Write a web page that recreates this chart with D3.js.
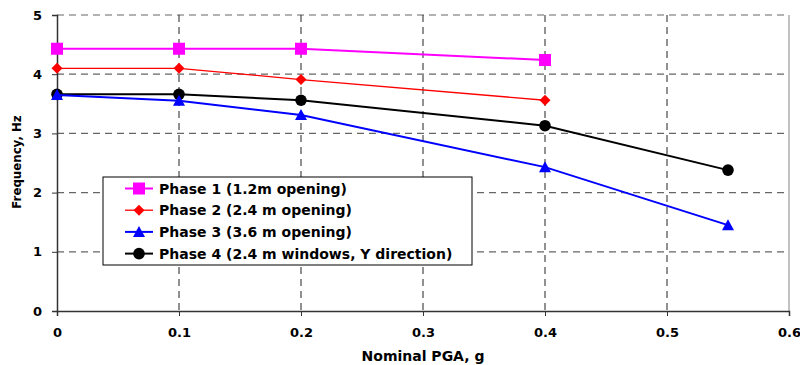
<!DOCTYPE html>
<html>
<head>
<meta charset="utf-8">
<script src="https://cdn.jsdelivr.net/npm/d3@7"></script>
<style>
  body { margin: 0; background: #fff; }
  svg { display: block; font-family: "DejaVu Sans", Verdana, sans-serif; font-weight: bold; }
</style>
</head>
<body>
<figure id="chart" style="margin:0"></figure>
<script>
// chart values
const pga = [0, 0.1, 0.2, 0.4, 0.55];
const phase1 = [4.43, 4.43, 4.43, 4.24];
const phase2 = [4.1, 4.1, 3.91, 3.56];
const phase3 = [3.65, 3.55, 3.31, 2.43, 1.45];
const phase4 = [3.66, 3.66, 3.56, 3.13, 2.38];
const seriesNames = [
  "Phase 1 (1.2m opening)",
  "Phase 2 (2.4 m opening)",
  "Phase 3 (3.6 m opening)",
  "Phase 4 (2.4 m windows, Y direction)"
];
const xTicks = [0, 0.1, 0.2, 0.3, 0.4, 0.5, 0.6];
const yTicks = [0, 1, 2, 3, 4, 5];

const width = 800, height = 365;
const margin = { top: 15, right: 11, bottom: 54, left: 57 };
const w = width - margin.left - margin.right;
const h = height - margin.top - margin.bottom;
const fontFam = "DejaVu Sans, Verdana, sans-serif";

const series = [
  { name: seriesNames[0], values: phase1, color: "#ff00ff", stroke: 2, shape: "square" },
  { name: seriesNames[1], values: phase2, color: "#ff0000", stroke: 1.3, shape: "diamond" },
  { name: seriesNames[2], values: phase3, color: "#0000ff", stroke: 2, shape: "triangle" },
  { name: seriesNames[3], values: phase4, color: "#000000", stroke: 2, shape: "circle" }
];

const svg = d3.select("figure#chart")
  .append("svg")
  .attr("width", width)
  .attr("height", height);

const g = svg.append("g")
  .attr("transform", "translate(" + margin.left + "," + margin.top + ")");

const x = d3.scaleLinear().domain([0, 0.6]).range([0, w]);
const y = d3.scaleLinear().domain([0, 5]).range([h, 0]);

// grid lines
g.append("g")
  .selectAll("line")
  .data(yTicks.filter(d => d > 0))
  .enter()
  .append("line")
  .attr("x1", 0).attr("x2", w)
  .attr("y1", d => y(d)).attr("y2", d => y(d))
  .attr("stroke", "#666").attr("stroke-width", 1.2)
  .attr("stroke-dasharray", "7,5");

g.append("g")
  .selectAll("line")
  .data(xTicks.filter(d => d > 0 && d < 0.6))
  .enter()
  .append("line")
  .attr("x1", d => x(d)).attr("x2", d => x(d))
  .attr("y1", 0).attr("y2", h)
  .attr("stroke", "#222").attr("stroke-width", 1)
  .attr("stroke-dasharray", "7,5");

// right border
g.append("line")
  .attr("x1", x(0.6)).attr("x2", x(0.6))
  .attr("y1", 0).attr("y2", h)
  .attr("stroke", "#999").attr("stroke-width", 1.2);

// axes
const xAxis = g.append("g")
  .attr("transform", "translate(0," + h + ")")
  .call(d3.axisBottom(x).tickValues(xTicks).tickFormat(d3.format("")).tickSize(5).tickPadding(12));
const yAxis = g.append("g")
  .call(d3.axisLeft(y).tickValues(yTicks).tickFormat(d3.format("d")).tickSize(5).tickPadding(10));

[xAxis, yAxis].forEach(a => {
  a.select(".domain").attr("stroke", "#333").attr("stroke-width", 1.5);
  a.selectAll(".tick line").attr("stroke", "#333");
  a.selectAll("text").attr("font-size", 13).attr("font-weight", "bold")
    .attr("font-family", fontFam).attr("fill", "#000");
});

// axis titles
svg.append("text")
  .attr("x", margin.left + x(0.3))
  .attr("y", 361)
  .attr("text-anchor", "middle")
  .attr("font-size", 14)
  .text("Nominal PGA, g");

svg.append("text")
  .attr("transform", "translate(21," + 162 + ") rotate(-90)")
  .attr("text-anchor", "middle")
  .attr("font-size", 11.8)
  .text("Frequency, Hz");

// marker drawing
function marker(sel, shape, color) {
  if (shape === "square") {
    sel.append("rect").attr("x", -6).attr("y", -6).attr("width", 12).attr("height", 12).attr("fill", color);
  } else if (shape === "diamond") {
    sel.append("path").attr("d", "M0,-5.5L5.5,0L0,5.5L-5.5,0Z").attr("fill", color);
  } else if (shape === "triangle") {
    sel.append("path").attr("d", "M0,-6L6,5L-6,5Z").attr("fill", color);
  } else {
    sel.append("circle").attr("r", 5.8).attr("fill", color);
  }
}

const line = d3.line()
  .x((d, i) => x(pga[i]))
  .y(d => y(d));

// draw series in reverse so phase 1 sits on top like the original
series.slice().reverse().forEach(s => {
  g.append("path")
    .datum(s.values)
    .attr("fill", "none")
    .attr("stroke", s.color)
    .attr("stroke-width", s.stroke)
    .attr("d", line);

  g.selectAll(null)
    .data(s.values)
    .enter()
    .append("g")
    .attr("transform", (d, i) => "translate(" + x(pga[i]) + "," + y(d) + ")")
    .each(function () { marker(d3.select(this), s.shape, s.color); });
});

// legend
const legend = svg.append("g").attr("transform", "translate(103,177)");
legend.append("rect")
  .attr("width", 369).attr("height", 88)
  .attr("fill", "#fff").attr("stroke", "#000").attr("stroke-width", 1);

const rows = legend.selectAll("g.row")
  .data(series)
  .enter()
  .append("g")
  .attr("class", "row")
  .attr("transform", (d, i) => "translate(0," + (11.5 + i * 21.7) + ")");

rows.append("line")
  .attr("x1", 22).attr("x2", 50)
  .attr("stroke", d => d.color)
  .attr("stroke-width", d => d.stroke);

rows.append("g")
  .attr("transform", "translate(36,0)")
  .each(function (d) { marker(d3.select(this), d.shape, d.color); });

rows.append("text")
  .attr("x", 56)
  .attr("dy", "0.36em")
  .attr("font-size", 14)
  .text(d => d.name);
</script>
</body>
</html>
